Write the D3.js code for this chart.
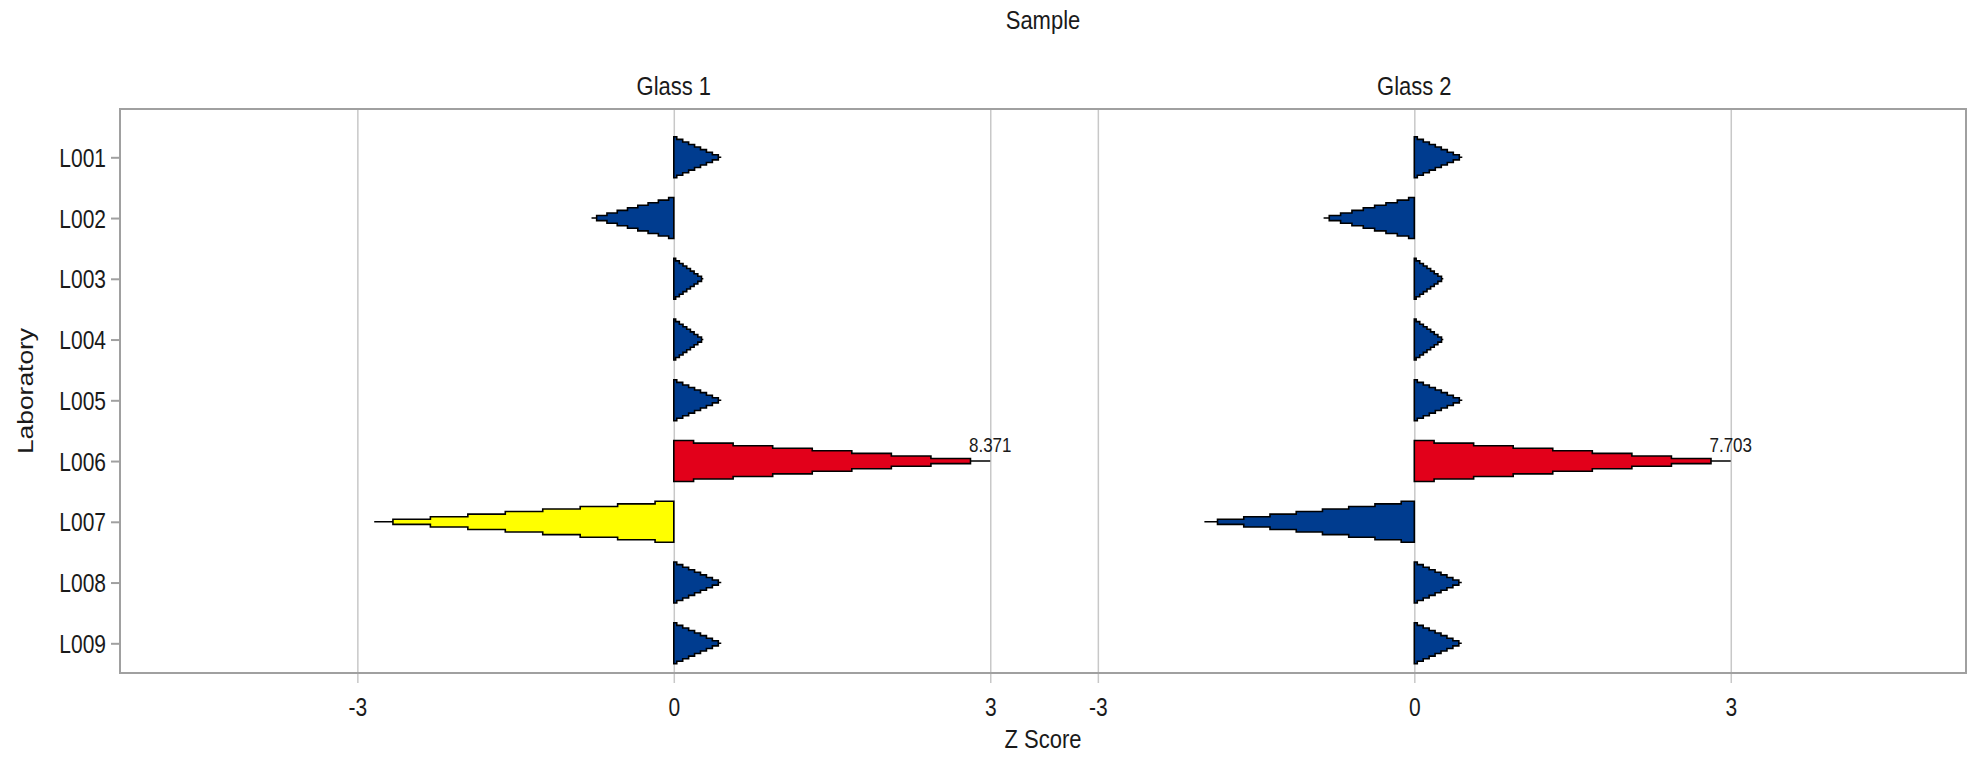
<!DOCTYPE html>
<html>
<head>
<meta charset="utf-8">
<script src="https://cdn.jsdelivr.net/npm/d3@7"></script>
<style>
body { margin: 0; background: #fff; }
text { font-family: "Liberation Sans", Arial, sans-serif; fill: #1a1a1a; }
</style>
</head>
<body>
<svg id="chart"></svg>
<script>
//Data
var labs = ["L001", "L002", "L003", "L004", "L005", "L006", "L007", "L008", "L009"];
var samples = ["Glass 1", "Glass 2"];
var glass1 = [0.45, -0.78, 0.28, 0.28, 0.45, 8.371, -2.84, 0.45, 0.45];
var glass2 = [0.455, -0.86, 0.275, 0.275, 0.455, 7.703, -1.99, 0.45, 0.45];
var xTicks = [-3, 0, 3];
var xDomains = [[-5.25, 3.5], [-3.52, 5.23]];

var width = 1977, height = 758;
var box = {left: 120, right: 1966, top: 109, bottom: 673};
var steps = 8;      //arrows are drawn as a stepped triangle
var limit = 3;      //values past this are capped and labelled
var stretch = "scale(1,1.2)";   //text in the original is a bit tall

var svg = d3.select("#chart")
    .attr("width", width)
    .attr("height", height);

var y = d3.scalePoint()
    .domain(labs)
    .range([157.3, 643.3]);
var half = 20.5;   //half height of an arrow base

var color = function(v) {
    var a = Math.abs(v);
    if (a >= 3) return "#e2001a";
    if (a >= 2) return "#ffff00";
    return "#003c8f";
};

//text placed at x,y and stretched up from its baseline
function label(x, y, size, str) {
    return svg.append("text")
        .attr("transform", "translate(" + x + "," + y + ") " + stretch)
        .attr("font-size", size + "px")
        .style("text-anchor", "middle")
        .text(str);
}

var mid = (box.left + box.right) / 2;
var panels = samples.map(function(s, i) {
    return {
        name: s,
        values: i == 0 ? glass1 : glass2,
        x: d3.scaleLinear().domain(xDomains[i]).range(i == 0 ? [box.left, mid] : [mid, box.right])
    };
});

//gridlines + bottom ticks
panels.forEach(function(p) {
    var ax = svg.append("g")
        .attr("transform", "translate(0," + (box.bottom + 10) + ")")
        .call(d3.axisBottom(p.x).tickValues(xTicks).tickSize(-(box.bottom + 10 - box.top)));
    ax.select(".domain").remove();
    ax.selectAll("line").attr("stroke", "#c8c8c8").attr("stroke-width", 1.5);
    ax.selectAll("text")
        .attr("y", 0).attr("dy", 0)
        .attr("transform", "translate(0,33) " + stretch)
        .attr("font-size", "21px")
        .attr("fill", "#1a1a1a")
        .text(function(d) { return d < 0 ? "-" + Math.abs(d) : d; });

    label(p.x(0), 95, 22, p.name);   //panel title over the zero line
});

//frame
svg.append("rect")
    .attr("x", box.left)
    .attr("y", box.top)
    .attr("width", box.right - box.left)
    .attr("height", box.bottom - box.top)
    .attr("fill", "none")
    .attr("stroke", "#a0a0a0")
    .attr("stroke-width", 2);

//y axis
var yAx = svg.append("g")
    .attr("transform", "translate(" + box.left + ",0)")
    .call(d3.axisLeft(y).tickSize(9));
yAx.select(".domain").remove();
yAx.selectAll("line").attr("stroke", "#a0a0a0").attr("stroke-width", 2);
yAx.selectAll("text")
    .attr("x", 0).attr("dy", 0)
    .attr("transform", "translate(-14,9) " + stretch)
    .attr("font-size", "21px")
    .attr("fill", "#1a1a1a");

//stepped arrow outline for one value
function arrowPath(x, v, yc) {
    var c = Math.max(-limit, Math.min(limit, v));
    var top = [], bot = [];
    for (var k = 0; k <= steps; k++) {
        var x0 = Math.max(0, Math.min(1, (k - 0.5) / steps)) * c,
            x1 = Math.max(0, Math.min(1, (k + 0.5) / steps)) * c,
            h = half * (1 - k / steps);
        top.push([x(x0), yc - h], [x(x1), yc - h]);
        bot.push([x(x0), yc + h], [x(x1), yc + h]);
    }
    return d3.line()(top.concat(bot.reverse())) + "Z";
}

panels.forEach(function(p) {
    var g = svg.append("g");
    g.selectAll("path")
        .data(p.values)
        .enter().append("path")
        .attr("d", function(d, i) { return arrowPath(p.x, d, y(labs[i])); })
        .attr("fill", function(d) { return color(d); })
        .attr("stroke", "#000")
        .attr("stroke-width", 1.6);

    p.values.forEach(function(d, i) {
        if (Math.abs(d) > limit)
            label(p.x(d > 0 ? limit : -limit), y(labs[i]) - 9, 17, d.toFixed(3));
    });
});

//axis titles
label(mid, 29, 22, "Sample");
label(mid, 748, 22, "Z Score");

svg.append("text")
    .attr("transform", "translate(33," + ((box.top + box.bottom) / 2) + ") rotate(-90) scale(1.2,1)")
    .attr("font-size", "22px")
    .style("text-anchor", "middle")
    .text("Laboratory");
</script>
</body>
</html>
